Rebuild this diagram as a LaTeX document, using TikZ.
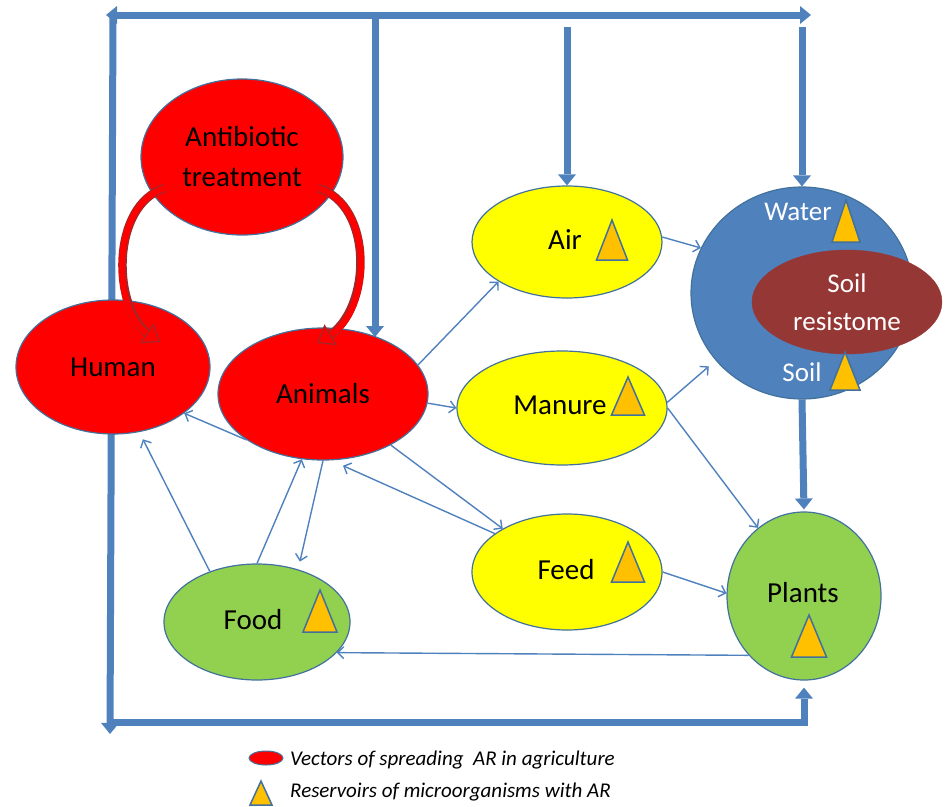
\documentclass[tikz,border=0pt]{standalone}
\usepackage{fontspec}
\setmainfont{Carlito}
\usetikzlibrary{arrows.meta,shapes.geometric,calc,backgrounds}
\definecolor{bfill}{HTML}{4F81BD}
\definecolor{bline}{HTML}{41719C}
\definecolor{connc}{HTML}{4F81BD}
\definecolor{redf}{HTML}{FF0000}
\definecolor{yel}{HTML}{FFFF00}
\definecolor{grn}{HTML}{92D050}
\definecolor{resis}{HTML}{953735}
\definecolor{trif}{HTML}{FFC000}
\definecolor{darkred}{HTML}{A0282A}
\begin{document}
\begin{tikzpicture}[x=1pt,y=-1pt,
  thickline/.style={line width=7pt, draw=bfill},
  bigtip/.tip={Triangle[width=18pt,length=11pt,line width=0pt]},
  connarrow/.style={draw=connc, line width=1.4pt, -{Straight Barb[length=6pt,width=12pt]}},
  ell/.style={ellipse, draw=bline, line width=1.2pt, inner sep=0pt, font=\fontsize{29}{40}\selectfont, align=center},
  tri/.style={fill=trif, draw=bline, line width=1.5pt, line join=miter},
  lbl/.style={font=\fontsize{29}{36}\selectfont, inner sep=0pt},
  wlbl/.style={font=\fontsize{27}{38}\selectfont, text=white, inner sep=0pt, align=center},
  legtext/.style={anchor=west, inner sep=0pt, font=\fontsize{21}{23}\selectfont\itshape},
  redcurve/.style={line width=6pt, draw=redf, -{Triangle[width=24pt,length=16pt,fill=redf,color=darkred,line width=1.2pt]}},
  redout/.style={line width=8.5pt, draw=darkred, shorten >=12pt},
]
\useasboundingbox (0,0) rectangle (947,806);

% nodes
\node[ell, fill=redf, minimum width=202pt, minimum height=156pt] (anti) at (242,157) {Antibiotic\\treatment};
\node[ell, fill=redf, minimum width=194pt, minimum height=134pt] (human) at (113,367) {Human};
\node[ell, fill=redf, minimum width=210pt, minimum height=132pt] (anim) at (323,394) {Animals};
\node[ell, fill=yel, minimum width=190pt, minimum height=112pt] (air) at (567,242) {};
\node[ell, fill=yel, minimum width=210pt, minimum height=114pt] (manure) at (562,408) {};
\node[ell, fill=yel, minimum width=190pt, minimum height=116pt] (feed) at (567,572) {};
\node[ell, fill=grn, minimum width=154pt, minimum height=168pt] (plants) at (804,596) {};
\node[ell, fill=grn, minimum width=186pt, minimum height=116pt] (food) at (257,622) {};
\node[ell, fill=bfill, minimum width=222pt, minimum height=212pt] (water) at (802,293) {};
\node[ellipse, fill=resis, draw=resis, minimum width=190pt, minimum height=104pt, inner sep=0pt] (resist) at (847,302) {};

% thick frame lines (behind)
\begin{pgfonlayer}{background}
\coordinate (tl) at (106,15);
\coordinate (tr) at (811,15);
\draw[thickline, {bigtip}-{bigtip}] (tl) -- (tr);
\draw[thickline, -{bigtip}] (113,15) -- (110,734);
\draw[thickline, -{bigtip}, line join=miter, shorten >=7pt] (110,722) -- (804,722) -- (plants.south);
\draw[thickline, -{bigtip}] (375,15) -- (375,337);
\draw[thickline, -{bigtip}] (air.north |- 0,27) -- (air.north);
\draw[thickline, -{bigtip}] (water.north |- 0,27) -- (water.north);
\draw[thickline, -{bigtip}, shorten >=2pt] (water.south) -- (plants.north);
\end{pgfonlayer}

% thin connectors
\draw[connarrow] (anim.17) -- (air.210);
\draw[connarrow] (anim.-5) -- (manure.180);
\draw[connarrow] (anim.-37) -- (feed.146);
\draw[connarrow, shorten >=13pt] (feed.152) -- (anim.-83);
\draw[connarrow, shorten >=8pt] (anim.south) -- (food.52);
\draw[connarrow] (food.north) -- (anim.-108);
\draw[connarrow, shorten >=8pt] (food.133) -- (human.-68);
\draw[connarrow] (anim.-149) -- (human.-33);
\draw[connarrow] (plants.-133) -- (food.-21);
\draw[connarrow] (air.3) -- (water.156);
\draw[connarrow, shorten >=9pt] (manure.3) -- (water.218);
\draw[connarrow] (manure.0) -- (plants.124);
\draw[connarrow] (feed.0) -- (plants.178);

% red curved arrows
\draw[redout] ($(anti)+(-77,31)$) .. controls (110,205) and (112,310) .. ($(human)+(47,-25)$);
\draw[redcurve] ($(anti)+(-77,31)$) .. controls (110,205) and (112,310) .. ($(human)+(47,-25)$);
\draw[redout] ($(anti)+(76,31)$) .. controls (374,205) and (372,310) .. ($(anim)+(-6,-51)$);
\draw[redcurve] ($(anti)+(76,31)$) .. controls (374,205) and (372,310) .. ($(anim)+(-6,-51)$);

% labels
\node[lbl] (airl) at (565,240) {Air};
\node[lbl] (manl) at (560,405) {Manure};
\node[lbl] (feedl) at (566,570) {Feed};
\node[lbl] (plantl) at (803,593) {Plants};
\node[lbl] (foodl) at (253,620) {Food};
\node[wlbl] (waterl) at (798,212) {Water};
\node[wlbl] (soill) at (802,372) {Soil};
\node[wlbl] (resl) at (847,302) {Soil\\resistome};

% triangles (reservoirs)
\draw[tri, shift={(612,240)}] (-15.5,20) -- (15.5,20) -- (0,-20) -- cycle;
\draw[tri, shift={(846,221)}] (-14,21) -- (14,21) -- (0,-21) -- cycle;
\draw[tri, shift={(845,371)}] (-15,19) -- (15,19) -- (0,-19) -- cycle;
\draw[tri, shift={(628,396)}] (-16.5,19) -- (16.5,19) -- (0,-19) -- cycle;
\draw[tri, shift={(628,562)}] (-16.5,20) -- (16.5,20) -- (0,-20) -- cycle;
\draw[tri, shift={(809,636)}] (-17.5,21) -- (17.5,21) -- (0,-21) -- cycle;
\draw[tri, shift={(320,611)}] (-17,21) -- (17,21) -- (0,-21) -- cycle;

% legend
\node[ellipse, fill=redf, draw=bline, line width=1pt, minimum width=34pt, minimum height=14pt, inner sep=0pt] (legv) at (266,758) {};
\node[legtext] (legvt) at (290,760) {Vectors of spreading~ AR in agriculture};
\draw[tri, shift={(261,793)}] (-11,12) -- (11,12) -- (0,-12) -- cycle;
\node[legtext] (legrt) at (290,792) {Reservoirs of microorganisms with AR};
\end{tikzpicture}
\end{document}
